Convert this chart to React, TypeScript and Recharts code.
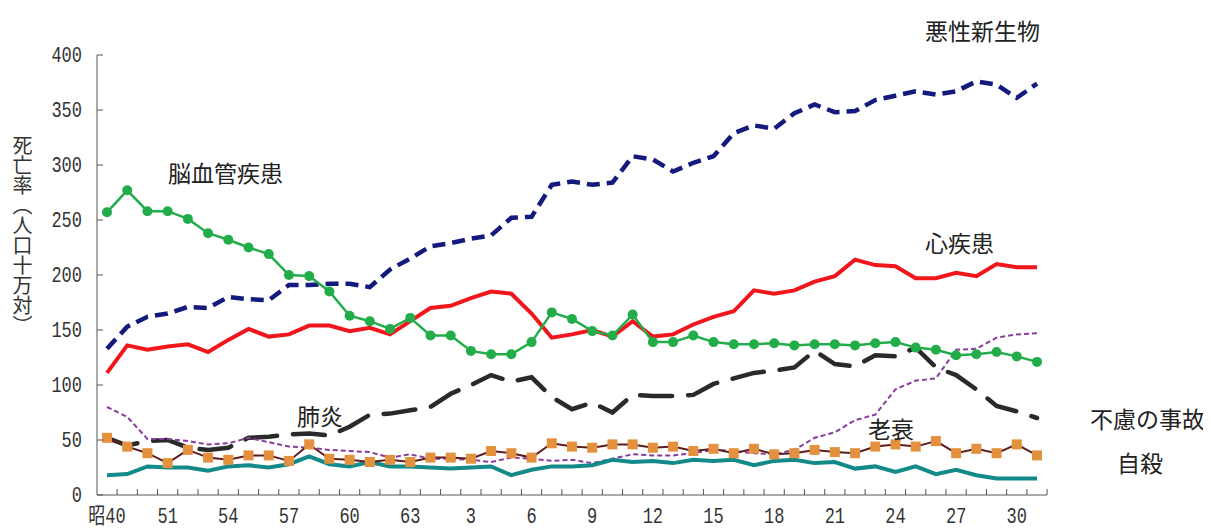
import { LineChart, Line, XAxis, YAxis } from "recharts";

const categories = [
  "昭40", "昭45", "昭50", "昭51", "昭52", "昭53", "昭54", "昭55", "昭56", "昭57",
  "昭58", "昭59", "昭60", "昭61", "昭62", "昭63",
  "平1", "平2", "平3", "平4", "平5", "平6", "平7", "平8", "平9", "平10",
  "平11", "平12", "平13", "平14", "平15", "平16", "平17", "平18", "平19", "平20",
  "平21", "平22", "平23", "平24", "平25", "平26", "平27", "平28", "平29", "平30",
  "令1",
];

const tickCategories = ["昭40", "昭51", "昭54", "昭57", "昭60", "昭63", "平3", "平6", "平9", "平12", "平15", "平18", "平21", "平24", "平27", "平30"];
const tickTexts = ["昭40", "51", "54", "57", "60", "63", "3", "6", "9", "12", "15", "18", "21", "24", "27", "30"];
const yTicks = [0, 50, 100, 150, 200, 250, 300, 350, 400];

// 悪性新生物
const cancer = [133, 153, 162, 165, 171, 170, 180, 178, 177, 191, 191, 192, 192, 189, 205, 215, 226, 229, 233, 236, 252, 253, 282, 285, 282, 284, 308, 305, 294, 302, 308, 329, 336, 333, 347, 355, 348, 349, 359, 363, 367, 364, 367, 376, 373, 361, 374];
// 心疾患
const heart = [111, 136, 132, 135, 137, 130, 141, 151, 144, 146, 154, 154, 149, 152, 146, 158, 170, 172, 179, 185, 183, 165, 143, 146, 150, 144, 158, 144, 146, 155, 162, 167, 186, 183, 186, 194, 199, 214, 209, 208, 197, 197, 202, 199, 210, 207, 207];
// 脳血管疾患
const stroke = [257, 277, 258, 258, 251, 238, 232, 225, 219, 200, 199, 185, 163, 158, 151, 161, 145, 145, 131, 128, 128, 139, 166, 160, 149, 145, 164, 139, 139, 145, 139, 137, 137, 138, 136, 137, 137, 136, 138, 139, 134, 132, 127, 128, 130, 126, 121];
// 肺炎
const pneumonia = [52, 45, 49, 50, 43, 41, 43, 52, 53, 55, 56, 54, 62, 73, 74, 77, 80, 92, 100, 109, 103, 107, 89, 78, 84, 75, 91, 90, 90, 91, 101, 106, 111, 113, 116, 131, 119, 117, 127, 126, 134, 116, 109, 96, 81, 76, 70];
// 老衰
const senility = [80, 71, 51, 51, 49, 46, 47, 52, 48, 44, 43, 41, 40, 39, 34, 37, 33, 33, 32, 30, 34, 33, 31, 32, 29, 33, 37, 36, 36, 38, 41, 40, 38, 37, 41, 52, 57, 68, 73, 96, 104, 106, 132, 133, 143, 146, 147];
// 不慮の事故
const accident = [52, 44, 38, 29, 41, 34, 32, 36, 36, 31, 46, 33, 32, 30, 32, 30, 34, 34, 33, 40, 38, 34, 47, 44, 43, 46, 46, 43, 44, 40, 42, 38, 42, 37, 38, 41, 39, 38, 44, 46, 44, 49, 38, 42, 38, 46, 36];
// 自殺
const suicide = [18, 19, 26, 25, 25, 22, 26, 27, 25, 28, 35, 28, 26, 30, 26, 26, 25, 24, 25, 26, 18, 23, 26, 26, 27, 32, 30, 31, 29, 32, 31, 32, 27, 31, 32, 29, 30, 24, 26, 21, 26, 19, 23, 18, 15, 15, 15];

const data = categories.map((year, i) => ({
  year,
  cancer: cancer[i],
  heart: heart[i],
  stroke: stroke[i],
  pneumonia: pneumonia[i],
  senility: senility[i],
  accident: accident[i],
  suicide: suicide[i],
}));

const labels = [
  { text: "悪性新生物", left: 917, top: 11 },
  { text: "脳血管疾患", left: 160, top: 153 },
  { text: "心疾患", left: 917, top: 223 },
  { text: "肺炎", left: 289, top: 396 },
  { text: "老衰", left: 860, top: 409 },
  { text: "不慮の事故", left: 1082, top: 399 },
  { text: "自殺", left: 1109, top: 443 },
];

const numFont = "'Liberation Mono', 'Noto Sans CJK JP', monospace";
const jpFont = "'Noto Sans CJK JP', sans-serif";

// digits in the original are tall and narrow
function XTick({ x, y, payload }: any) {
  const k = tickCategories.indexOf(payload.value);
  return (
    <g>
      <line x1={x + 10.1} x2={x + 10.1} y1={y} y2={y - 6} stroke="#555" />
      {k >= 0 && (
        <text
          transform={`translate(${x},${y + 28}) scale(1,1.25)`}
          textAnchor="middle"
          fontSize={17}
          fontFamily={numFont}
          fill="#333"
        >
          {tickTexts[k]}
        </text>
      )}
    </g>
  );
}

function YTick({ x, y, payload }: any) {
  return (
    <g>
      <line x1={x + 15} x2={x + 21} y1={y} y2={y} stroke="#555" />
      <text
        transform={`translate(${x},${y + 7}) scale(1,1.25)`}
        textAnchor="end"
        fontSize={17}
        fontFamily={numFont}
        fill="#333"
      >
        {payload.value}
      </text>
    </g>
  );
}

function SquareDot({ cx, cy, index }: any) {
  return <rect key={index} x={cx - 5} y={cy - 5} width={10} height={10} fill="#e3913f" />;
}

export default function App() {
  return (
    <div style={{ position: "relative", width: 1203, height: 522 }}>
      <LineChart width={1203} height={522} data={data} margin={{ top: 47, right: 164, bottom: 5, left: 50 }}>
        <XAxis
          dataKey="year"
          interval={0}
          padding={{ left: 10, right: 10 }}
          tickLine={false}
          tickSize={0}
          tickMargin={0}
          height={30}
          axisLine={{ stroke: "#555" }}
          tick={<XTick />}
        />
        <YAxis
          domain={[0, 400]}
          ticks={yTicks}
          width={39}
          tickLine={false}
          tickSize={0}
          tickMargin={15}
          axisLine={{ stroke: "#555" }}
          tick={<YTick />}
        />
        <Line type="linear" dataKey="cancer" stroke="#141a7d" strokeWidth={4.5} strokeDasharray="13 7" dot={false} isAnimationActive={false} />
        <Line type="linear" dataKey="heart" stroke="#f0161b" strokeWidth={4} dot={false} isAnimationActive={false} />
        <Line type="linear" dataKey="pneumonia" stroke="#2a2a2a" strokeWidth={4.5} strokeDasharray="32 16" strokeLinecap="round" dot={false} isAnimationActive={false} />
        <Line type="linear" dataKey="senility" stroke="#8a3b9e" strokeWidth={2} strokeDasharray="5 3" dot={false} isAnimationActive={false} />
        <Line type="linear" dataKey="suicide" stroke="#138a8a" strokeWidth={4} dot={false} isAnimationActive={false} />
        <Line type="linear" dataKey="accident" stroke="#5e1d1d" strokeWidth={2} dot={<SquareDot />} isAnimationActive={false} />
        <Line
          type="linear"
          dataKey="stroke"
          stroke="#23ad4a"
          strokeWidth={2.5}
          dot={{ r: 5, fill: "#23ad4a", stroke: "#23ad4a", strokeWidth: 0 }}
          isAnimationActive={false}
        />
      </LineChart>
      <div
        style={{
          position: "absolute",
          left: 4,
          top: 127,
          writingMode: "vertical-rl",
          fontFamily: jpFont,
          fontSize: 20,
          lineHeight: 1,
          color: "#333",
        }}
      >
        死亡率（人口十万対）
      </div>
      {labels.map((l) => (
        <div
          key={l.text}
          style={{
            position: "absolute",
            left: l.left,
            top: l.top,
            fontFamily: jpFont,
            fontSize: 23,
            lineHeight: 1,
            color: "#222",
            whiteSpace: "nowrap",
          }}
        >
          {l.text}
        </div>
      ))}
    </div>
  );
}
